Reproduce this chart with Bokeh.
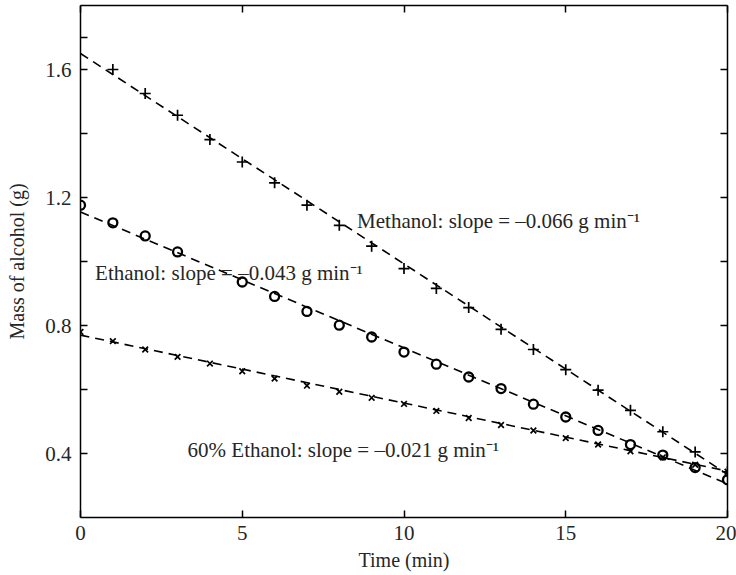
from bokeh.plotting import figure
from bokeh.models import LinearAxis, FixedTicker, Range1d, Label
from bokeh.embed import file_html
from bokeh.resources import INLINE

# ---- data ----
methanol_t = [1, 2, 3, 4, 5, 6, 7, 8, 9, 10, 11, 12, 13, 14, 15, 16, 17, 18, 19, 20]
methanol = [1.600, 1.525, 1.457, 1.381, 1.311, 1.246, 1.176, 1.113, 1.048, 0.978,
            0.916, 0.856, 0.788, 0.725, 0.662, 0.598, 0.535, 0.468, 0.405, 0.343]

ethanol_t = [0, 1, 2, 3, 5, 6, 7, 8, 9, 10, 11, 12, 13, 14, 15, 16, 17, 18, 19, 20]
ethanol = [1.176, 1.121, 1.080, 1.030, 0.936, 0.891, 0.844, 0.801, 0.764, 0.717,
           0.679, 0.639, 0.603, 0.554, 0.514, 0.472, 0.428, 0.395, 0.356, 0.318]

ethanol60_t = [0, 1, 2, 3, 4, 5, 6, 7, 8, 9, 10, 11, 12, 13, 14, 15, 16, 17, 18, 19, 20]
ethanol60 = [0.780, 0.751, 0.725, 0.702, 0.681, 0.657, 0.634, 0.612, 0.593, 0.574, 0.555,
             0.533, 0.511, 0.489, 0.472, 0.448, 0.428, 0.407, 0.388, 0.365, 0.343]

# fitted straight lines (end points at t = 0 and t = 20)
fit_t = [0, 20]
methanol_fit = [1.650, 0.335]
ethanol_fit = [1.155, 0.305]
ethanol60_fit = [0.770, 0.345]

labels = ["Methanol: slope = \u20130.066 g min\u207b\u00b9",
          "Ethanol: slope = \u20130.043 g min\u207b\u00b9",
          "60% Ethanol: slope = \u20130.021 g min\u207b\u00b9"]

x_ticks = [0, 5, 10, 15, 20]
y_ticks = [0.4, 0.8, 1.2, 1.6]
y_minor = [0.6, 1.0, 1.4]

FONT = "Liberation Serif"
TXT = "#262626"

p = figure(width=736, height=575, output_backend="svg", toolbar_location=None,
           x_range=Range1d(0, 20), y_range=Range1d(0.2, 1.8),
           min_border_left=80, min_border_right=9, min_border_top=5,
           min_border_bottom=58, x_axis_label="Time (min)",
           y_axis_label="Mass of alcohol (g)")
p.grid.visible = False
p.outline_line_color = None
p.background_fill_color = "white"
p.border_fill_color = "white"


def style(ax):
    ax.axis_line_color = "black"
    ax.axis_line_width = 1.5
    ax.major_tick_line_color = "black"
    ax.major_tick_line_width = 1.5
    ax.minor_tick_line_color = "black"
    ax.minor_tick_line_width = 1.5
    ax.major_tick_in = 7
    ax.major_tick_out = 0
    ax.minor_tick_in = 7
    ax.minor_tick_out = 0
    ax.major_label_text_font = FONT
    ax.major_label_text_color = TXT
    ax.major_label_text_font_size = "21px"
    ax.axis_label_text_font = FONT
    ax.axis_label_text_font_style = "normal"
    ax.axis_label_text_color = TXT
    ax.axis_label_text_font_size = "20px"


xa = p.xaxis[0]
ya = p.yaxis[0]
style(xa)
style(ya)
xa.ticker = FixedTicker(ticks=x_ticks)
ya.ticker = FixedTicker(ticks=y_ticks, minor_ticks=y_minor + [1.7])
xa.major_label_standoff = 8
ya.major_label_standoff = 9
xa.axis_label_standoff = 6
ya.axis_label_standoff = 14

# box axes on top and right: tick marks only (drawn as minor ticks, no labels)
top = LinearAxis(ticker=FixedTicker(ticks=[], minor_ticks=x_ticks))
right = LinearAxis(ticker=FixedTicker(ticks=[], minor_ticks=y_ticks + y_minor))
for ax in (top, right):
    style(ax)
    ax.major_label_standoff = 0
    ax.major_label_text_font_size = "0px"
p.add_layout(top, "above")
p.add_layout(right, "right")

dash = "9 6"
p.line(fit_t, methanol_fit, line_color="black", line_width=1.6, line_dash=dash)
p.line(fit_t, ethanol_fit, line_color="black", line_width=1.6, line_dash=dash)
p.line(fit_t, ethanol60_fit, line_color="black", line_width=1.6, line_dash=dash)

p.scatter(methanol_t, methanol, marker="cross", size=11, line_color="black", line_width=1.7)
p.scatter(ethanol_t, ethanol, marker="circle", size=9, line_color="black",
          fill_color=None, line_width=2.3)
p.scatter(ethanol60_t, ethanol60, marker="x", size=8, line_color="black", line_width=1.7)

label_x = [8.55, 0.45, 3.31]
label_y = [1.127, 0.964, 0.410]
for tx, lx, ly in zip(labels, label_x, label_y):
    p.add_layout(Label(x=lx, y=ly, text=tx, text_font=FONT, text_font_size="21px",
                       text_color=TXT, text_baseline="alphabetic"))

open("out.html", "w").write(file_html(p, INLINE))
